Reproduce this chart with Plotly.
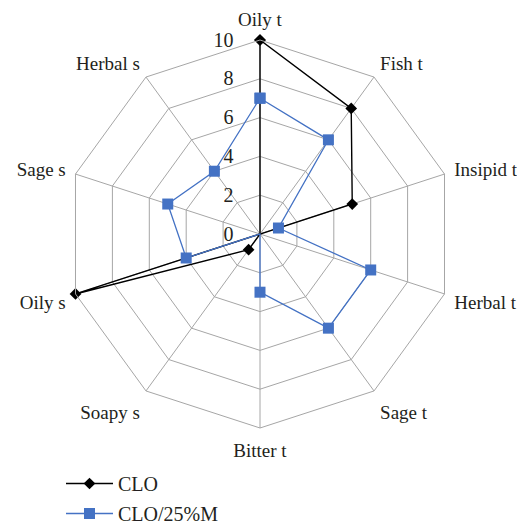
import plotly.graph_objects as go

categories = ["Oily t", "Fish t", "Insipid t", "Herbal t", "Sage t",
              "Bitter t", "Soapy s", "Oily s", "Sage s", "Herbal s"]
clo = [10, 8, 5, 0, 0, 0, 1, 10, 0, 0]
clo_25m = [7, 6, 1, 6, 6, 3, 0, 4, 5, 4]
radial_ticks = [0, 2, 4, 6, 8, 10]

FONT = "Liberation Serif"
FS = 20
FS_ANG = 19
GRID = "#a6a6a6"
TXT = "#231f20"

fig = go.Figure()
fig.add_trace(go.Scatterpolar(
    r=clo + clo[:1], theta=categories + categories[:1], name="CLO",
    mode="lines+markers", legendgroup="a",
    line=dict(color="#000000", width=1.4),
    marker=dict(symbol="diamond", size=9, color="#000000"),
))
fig.add_trace(go.Scatterpolar(
    r=clo_25m + clo_25m[:1], theta=categories + categories[:1], name="CLO/25%M",
    mode="lines+markers", legendgroup="b",
    line=dict(color="#4472C4", width=1.3),
    marker=dict(symbol="square", size=11, color="#4472C4"),
))

# page body has an 8px margin, so figure coords = screen coords - 8
OFF = 8
W, H = 525 - OFF, 529 - OFF
cx, cy, R = 260 - OFF, 234 - OFF, 194
fig.update_layout(
    width=W, height=H,
    margin=dict(l=0, r=0, t=0, b=0, autoexpand=False),
    paper_bgcolor="white",
    font=dict(family=FONT, size=FS, color=TXT),
    polar=dict(
        domain=dict(x=[(cx - R) / W, (cx + R) / W],
                    y=[(H - cy - R) / H, (H - cy + R) / H]),
        bgcolor="white",
        gridshape="linear",
        radialaxis=dict(
            range=[0, 10], tickvals=radial_ticks, ticktext=[str(v) for v in radial_ticks],
            angle=90, tickangle=90, side="counterclockwise",
            showline=False, ticks="outside", ticklen=19, tickcolor="rgba(0,0,0,0)",
            gridcolor=GRID, gridwidth=1,
            tickfont=dict(family=FONT, size=FS, color=TXT),
        ),
        angularaxis=dict(
            direction="clockwise", rotation=90,
            showline=True, linecolor=GRID, linewidth=1,
            gridcolor=GRID, gridwidth=1,
            ticks="outside", ticklen=6, tickcolor="rgba(0,0,0,0)",
            tickfont=dict(family=FONT, size=FS_ANG, color=TXT),
        ),
    ),
    showlegend=True,
    legend=dict(
        x=(61 - OFF) / W, y=(H - 456) / H, xanchor="left", yanchor="top",
        bgcolor="rgba(0,0,0,0)", tracegroupgap=1, itemwidth=47,
        font=dict(family=FONT, size=FS, color=TXT),
    ),
)

fig.write_html("out.html")
